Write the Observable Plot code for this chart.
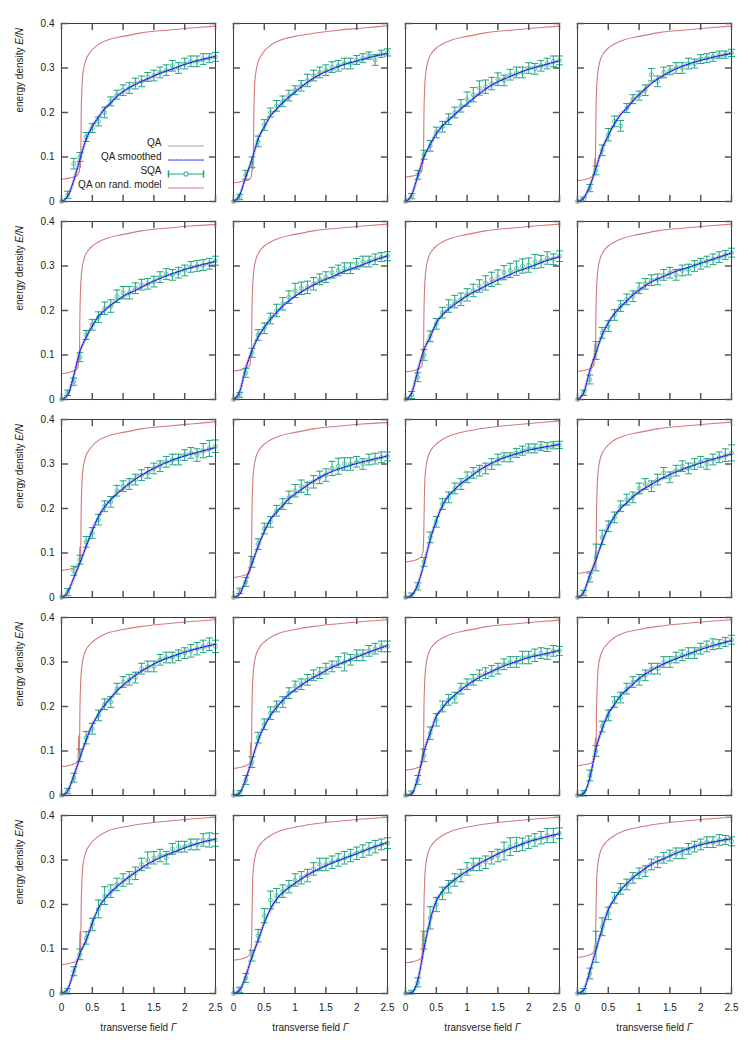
<!DOCTYPE html>
<html><head><meta charset="utf-8">
<script src="https://cdn.jsdelivr.net/npm/d3@7"></script>
<script src="https://cdn.jsdelivr.net/npm/@observablehq/plot@0.6"></script>
<style>
html,body{margin:0;padding:0;background:#fff;}
#chart{width:748px;height:1057px;}
</style></head><body><div id="chart"></div>
<script>
// ---------- data (panels ordered row by row, 4 per row) ----------
const xTicks = [0, 0.5, 1, 1.5, 2, 2.5];
const yTicks = [0, 0.1, 0.2, 0.3, 0.4];
const legendLabels = ["QA", "QA smoothed", "SQA", "QA on rand. model"];
const xTitle = "transverse field Γ";
const yTitle = "energy density E/N";

// x grid of the SQA points
const sqaX = [0,.1,.2,.3,.4,.5,.6,.7,.8,.9,1,1.1,1.2,1.3,1.4,1.5,1.6,1.7,1.8,1.9,2,2.1,2.2,2.3,2.4,2.5];
// x grid of QA and QA smoothed
const qaX = [0,.1,.2,.3,.4,.5,.6,.7,.8,.9,1,1.2,1.4,1.6,1.8,2,2.25,2.5];
// x grid of QA on random model
const randX = [0,.1,.2,.26,.27,.28,.29,.3,.31,.32,.33,.34,.35,.37,.4,.45,.5,.6,.75,1,1.3,1.7,2.1,2.5];

const qaSmoothed = [
[0,.012,.048,.095,.14,.168,.19,.208,.222,.236,.247,.263,.276,.288,.298,.308,.318,.326],
[0,.015,.055,.095,.14,.168,.192,.208,.222,.235,.246,.268,.285,.298,.308,.316,.325,.333],
[0,.015,.058,.1,.128,.152,.17,.183,.196,.208,.22,.242,.262,.275,.287,.297,.307,.316],
[0,.008,.035,.075,.118,.148,.175,.195,.21,.226,.24,.265,.284,.298,.309,.317,.326,.333],
[0,.01,.055,.108,.14,.165,.187,.2,.212,.222,.232,.245,.26,.272,.283,.292,.302,.31],
[0,.018,.07,.11,.14,.162,.18,.196,.21,.222,.232,.25,.264,.276,.288,.298,.311,.323],
[0,.015,.065,.112,.14,.172,.19,.204,.214,.224,.233,.248,.262,.275,.287,.297,.31,.321],
[0,.015,.065,.105,.145,.172,.193,.208,.222,.235,.246,.264,.277,.288,.297,.306,.318,.329],
[0,.012,.045,.078,.115,.15,.182,.203,.22,.233,.245,.266,.283,.297,.309,.318,.328,.337],
[0,.008,.04,.076,.115,.148,.175,.192,.207,.222,.233,.252,.27,.283,.293,.301,.31,.318],
[0,.005,.03,.075,.13,.172,.207,.228,.243,.256,.266,.286,.302,.314,.323,.331,.338,.344],
[0,.012,.05,.085,.125,.158,.182,.2,.213,.226,.237,.254,.27,.282,.293,.302,.313,.322],
[0,.01,.045,.085,.125,.158,.183,.203,.22,.235,.248,.27,.288,.302,.313,.322,.332,.34],
[0,.006,.038,.08,.124,.155,.18,.198,.214,.227,.238,.257,.273,.288,.3,.311,.325,.337],
[0,.004,.04,.098,.14,.177,.197,.213,.226,.237,.248,.265,.279,.291,.301,.31,.318,.326],
[0,.005,.04,.105,.15,.183,.205,.224,.238,.25,.263,.281,.296,.307,.318,.328,.339,.348],
[0,.01,.05,.09,.12,.158,.192,.212,.228,.24,.252,.272,.291,.305,.317,.327,.339,.347],
[0,.008,.04,.082,.12,.158,.19,.212,.227,.238,.248,.266,.281,.293,.304,.314,.328,.339],
[0,.002,.03,.1,.165,.207,.23,.244,.256,.266,.275,.292,.307,.32,.331,.341,.351,.359],
[0,.008,.05,.098,.146,.188,.213,.232,.247,.26,.271,.29,.303,.315,.326,.334,.342,.348]
];

const qaRaw = [
[0,.013,.046,.098,.138,.171,.188,.21,.22,.239,.245,.266,.274,.29,.296,.31,.316,.327],
[0,.014,.058,.093,.143,.166,.195,.206,.225,.233,.249,.266,.288,.296,.31,.314,.327,.332],
[0,.016,.055,.102,.126,.155,.168,.186,.194,.211,.218,.245,.26,.278,.285,.299,.305,.317],
[0,.009,.033,.078,.116,.151,.173,.198,.208,.229,.238,.268,.282,.301,.307,.319,.324,.334],
[0,.011,.052,.11,.138,.168,.185,.203,.21,.225,.23,.248,.258,.275,.281,.294,.3,.311],
[0,.017,.073,.108,.143,.16,.183,.194,.213,.22,.235,.248,.267,.274,.29,.296,.313,.322],
[0,.014,.068,.11,.143,.17,.193,.202,.217,.222,.236,.246,.265,.273,.29,.295,.312,.32],
[0,.016,.062,.108,.143,.175,.191,.211,.22,.238,.244,.267,.275,.291,.295,.309,.316,.33],
[0,.013,.042,.081,.113,.153,.18,.206,.218,.236,.243,.269,.281,.3,.307,.321,.326,.338],
[0,.009,.038,.079,.113,.151,.173,.195,.205,.225,.231,.255,.268,.286,.291,.304,.308,.319],
[0,.006,.028,.078,.128,.175,.205,.231,.241,.259,.264,.289,.3,.317,.321,.334,.336,.345],
[0,.013,.047,.088,.123,.161,.18,.203,.211,.229,.235,.257,.268,.285,.291,.305,.311,.323],
[0,.011,.042,.088,.123,.161,.181,.206,.218,.238,.246,.273,.286,.305,.311,.325,.33,.341],
[0,.007,.036,.083,.122,.158,.178,.201,.212,.23,.236,.26,.271,.291,.298,.314,.323,.338],
[0,.005,.038,.101,.138,.18,.195,.216,.224,.24,.246,.268,.277,.294,.299,.313,.316,.327],
[0,.006,.037,.108,.148,.186,.203,.227,.236,.253,.261,.284,.294,.31,.316,.331,.337,.349],
[0,.011,.047,.093,.118,.161,.19,.215,.226,.243,.25,.275,.289,.308,.315,.33,.337,.348],
[0,.009,.037,.085,.118,.161,.188,.215,.225,.241,.246,.269,.279,.296,.302,.317,.326,.34],
[0,.003,.028,.103,.163,.21,.228,.247,.254,.269,.273,.295,.305,.323,.329,.344,.349,.36],
[0,.009,.047,.101,.144,.191,.211,.235,.245,.263,.269,.293,.301,.318,.324,.337,.34,.349]
];

const sqaMean = [
[0,.015,.085,.1,.145,.165,.18,.2,.225,.24,.25,.255,.265,.27,.28,.283,.29,.295,.305,.3,.31,.315,.315,.32,.322,.325],
[0,.01,.06,.088,.135,.172,.2,.215,.225,.238,.25,.26,.272,.283,.29,.295,.302,.305,.31,.31,.318,.322,.328,.318,.332,.335],
[0,.012,.06,.105,.125,.155,.168,.185,.2,.215,.23,.24,.255,.258,.265,.275,.272,.285,.29,.29,.3,.298,.305,.31,.315,.317],
[0,.005,.03,.07,.115,.15,.18,.17,.21,.23,.238,.25,.285,.27,.29,.295,.3,.3,.31,.31,.32,.322,.325,.33,.33,.334],
[0,.015,.04,.095,.145,.168,.185,.205,.21,.232,.24,.24,.25,.258,.26,.265,.275,.282,.28,.285,.29,.298,.3,.302,.305,.312],
[0,.01,.06,.105,.145,.16,.182,.2,.215,.23,.245,.25,.252,.26,.27,.275,.285,.29,.295,.295,.305,.31,.31,.315,.32,.322],
[0,.01,.05,.1,.142,.17,.195,.21,.22,.225,.235,.245,.255,.262,.27,.275,.285,.29,.295,.3,.302,.31,.31,.318,.315,.322],
[0,.015,.045,.11,.15,.165,.19,.21,.225,.232,.25,.26,.268,.27,.28,.285,.28,.29,.292,.3,.305,.31,.315,.32,.325,.33],
[0,.012,.06,.085,.125,.145,.175,.205,.215,.24,.25,.255,.265,.275,.28,.29,.295,.305,.31,.31,.32,.325,.32,.33,.335,.34],
[0,.015,.035,.08,.12,.155,.17,.195,.21,.225,.24,.25,.245,.26,.27,.275,.29,.295,.3,.3,.305,.3,.31,.312,.315,.317],
[0,.005,.025,.08,.135,.17,.21,.225,.245,.255,.27,.28,.285,.29,.3,.31,.315,.315,.325,.33,.335,.335,.34,.338,.342,.343],
[0,.01,.045,.09,.135,.16,.18,.205,.22,.225,.245,.255,.25,.265,.28,.27,.285,.295,.29,.3,.305,.3,.31,.315,.32,.325],
[0,.01,.04,.09,.13,.15,.18,.205,.21,.24,.255,.26,.265,.285,.29,.29,.305,.31,.31,.315,.32,.325,.33,.335,.34,.335],
[0,.005,.035,.075,.13,.16,.185,.2,.21,.23,.245,.25,.26,.27,.275,.285,.29,.3,.3,.305,.315,.315,.325,.33,.335,.335],
[0,.005,.035,.09,.14,.17,.2,.215,.22,.24,.25,.26,.27,.275,.28,.285,.295,.3,.3,.31,.31,.315,.32,.318,.325,.325],
[0,.005,.045,.1,.155,.18,.21,.22,.24,.255,.26,.27,.285,.285,.3,.3,.31,.315,.32,.32,.33,.335,.34,.34,.345,.35],
[0,.005,.05,.088,.125,.155,.19,.22,.23,.245,.255,.26,.27,.29,.3,.305,.31,.305,.325,.33,.33,.335,.335,.345,.345,.345],
[0,.008,.035,.085,.13,.175,.21,.22,.23,.24,.255,.26,.265,.28,.29,.29,.295,.3,.305,.31,.315,.32,.325,.33,.335,.338],
[0,.003,.025,.12,.17,.2,.225,.24,.255,.265,.28,.29,.29,.295,.305,.31,.32,.33,.335,.335,.34,.345,.35,.355,.355,.36],
[0,.005,.045,.105,.15,.18,.215,.235,.245,.26,.27,.275,.29,.295,.305,.31,.315,.315,.325,.33,.335,.34,.34,.345,.345,.342]
];

const sqaErr = [
[0,.008,.012,.01,.01,.01,.01,.012,.01,.01,.012,.012,.012,.012,.01,.012,.012,.012,.012,.012,.012,.012,.012,.012,.01,.01],
[0,.006,.01,.012,.012,.012,.01,.012,.012,.012,.01,.012,.014,.012,.012,.012,.012,.012,.012,.012,.01,.01,.008,.012,.008,.008],
[0,.006,.01,.01,.012,.012,.012,.012,.012,.014,.016,.016,.016,.015,.014,.014,.012,.012,.012,.012,.012,.012,.012,.012,.012,.01],
[0,.005,.008,.01,.012,.014,.012,.012,.01,.01,.01,.012,.014,.012,.012,.01,.012,.012,.012,.01,.01,.01,.01,.008,.008,.008],
[0,.006,.008,.01,.01,.012,.012,.014,.014,.014,.014,.014,.012,.012,.012,.012,.012,.012,.012,.012,.012,.012,.012,.012,.012,.01],
[0,.006,.01,.01,.012,.012,.012,.014,.014,.014,.016,.014,.014,.014,.012,.012,.012,.012,.012,.012,.012,.012,.012,.012,.01,.01],
[0,.008,.01,.012,.012,.012,.012,.014,.014,.014,.014,.014,.014,.016,.016,.016,.016,.016,.016,.016,.016,.016,.014,.014,.012,.012],
[0,.006,.01,.02,.012,.012,.012,.012,.012,.012,.012,.012,.012,.012,.012,.012,.012,.012,.012,.012,.012,.012,.012,.012,.01,.01],
[0,.008,.01,.01,.012,.012,.012,.012,.012,.012,.012,.012,.012,.012,.012,.012,.012,.012,.012,.012,.012,.012,.014,.016,.018,.014],
[0,.006,.01,.012,.012,.012,.012,.012,.012,.014,.014,.014,.014,.014,.014,.014,.016,.018,.014,.014,.012,.012,.012,.012,.012,.01],
[0,.005,.008,.01,.012,.012,.012,.012,.012,.012,.012,.012,.012,.012,.012,.012,.01,.01,.01,.01,.01,.01,.01,.01,.008,.008],
[0,.006,.01,.03,.016,.012,.012,.012,.012,.012,.012,.012,.012,.012,.012,.012,.012,.012,.012,.012,.012,.012,.012,.012,.014,.018],
[0,.006,.01,.014,.014,.012,.012,.012,.012,.012,.012,.012,.012,.012,.012,.012,.012,.012,.012,.012,.012,.014,.014,.014,.014,.014],
[0,.006,.01,.012,.012,.012,.014,.012,.012,.012,.012,.012,.012,.012,.012,.012,.012,.012,.02,.012,.012,.012,.012,.012,.012,.012],
[0,.005,.01,.014,.014,.014,.012,.012,.012,.012,.012,.012,.012,.012,.012,.012,.012,.012,.012,.014,.014,.014,.012,.012,.012,.01],
[0,.006,.012,.012,.012,.012,.012,.012,.012,.012,.012,.012,.012,.012,.012,.012,.012,.012,.012,.012,.012,.012,.012,.01,.01,.01],
[0,.006,.01,.012,.014,.014,.02,.02,.014,.014,.014,.014,.014,.014,.018,.014,.014,.014,.012,.012,.012,.012,.012,.014,.016,.014],
[0,.006,.01,.012,.014,.016,.02,.016,.014,.014,.014,.014,.014,.014,.014,.014,.014,.014,.014,.014,.014,.014,.014,.014,.012,.012],
[0,.004,.01,.02,.025,.016,.014,.014,.014,.014,.014,.014,.014,.014,.014,.014,.02,.02,.016,.014,.014,.014,.014,.016,.016,.012],
[0,.006,.012,.035,.02,.014,.012,.012,.012,.012,.012,.012,.012,.012,.012,.012,.012,.012,.012,.012,.012,.012,.012,.012,.01,.01]
];

const qaRand = [
[.05,.052,.055,.059,.061,.064,.07,.09,.075,.2,.25,.275,.29,.305,.32,.332,.341,.353,.363,.371,.379,.385,.39,.394],
[.042,.044,.047,.05,.052,.054,.057,.067,.092,.072,.2,.25,.275,.296,.314,.328,.338,.351,.362,.371,.378,.385,.39,.395],
[.055,.057,.061,.067,.071,.105,.085,.2,.25,.275,.29,.3,.307,.318,.328,.338,.345,.354,.363,.371,.379,.385,.39,.394],
[.047,.049,.053,.059,.063,.097,.077,.2,.25,.275,.29,.3,.307,.318,.328,.338,.345,.354,.363,.371,.379,.385,.39,.394],
[.058,.06,.064,.07,.074,.1,.088,.2,.25,.275,.29,.3,.307,.318,.328,.338,.345,.354,.363,.371,.379,.385,.39,.393],
[.064,.066,.07,.076,.08,.11,.094,.2,.25,.275,.29,.3,.307,.318,.328,.338,.345,.354,.363,.371,.379,.385,.39,.394],
[.062,.064,.068,.074,.078,.115,.092,.2,.25,.275,.29,.3,.307,.318,.328,.338,.345,.354,.363,.371,.379,.385,.39,.394],
[.063,.065,.069,.075,.079,.125,.093,.2,.25,.275,.29,.3,.307,.318,.328,.338,.345,.354,.363,.371,.379,.385,.39,.394],
[.061,.063,.066,.07,.072,.075,.081,.115,.09,.2,.25,.275,.29,.305,.32,.332,.341,.353,.363,.371,.379,.385,.39,.395],
[.045,.047,.051,.057,.061,.095,.075,.19,.25,.275,.29,.3,.307,.318,.328,.338,.345,.354,.363,.371,.379,.385,.39,.393],
[.08,.082,.086,.092,.096,.1,.11,.17,.25,.275,.29,.3,.307,.318,.328,.338,.345,.355,.365,.374,.381,.387,.392,.397],
[.054,.056,.059,.064,.067,.071,.104,.084,.2,.25,.275,.29,.3,.312,.324,.335,.343,.354,.363,.371,.379,.385,.39,.394],
[.065,.067,.071,.077,.081,.135,.095,.2,.25,.275,.29,.3,.307,.318,.328,.338,.345,.355,.365,.373,.38,.386,.391,.395],
[.061,.063,.067,.073,.077,.12,.091,.2,.25,.275,.29,.3,.307,.318,.328,.338,.345,.355,.365,.373,.38,.386,.391,.395],
[.057,.059,.063,.069,.073,.107,.087,.2,.25,.275,.29,.3,.307,.318,.328,.338,.345,.354,.363,.371,.379,.385,.39,.394],
[.067,.069,.072,.077,.08,.084,.13,.097,.2,.25,.275,.29,.3,.312,.324,.335,.343,.355,.365,.373,.38,.386,.391,.395],
[.065,.067,.07,.074,.076,.079,.085,.14,.095,.2,.25,.275,.29,.305,.32,.332,.341,.353,.365,.374,.381,.387,.392,.396],
[.075,.077,.081,.087,.091,.1,.105,.165,.25,.275,.29,.3,.307,.318,.328,.338,.345,.355,.365,.374,.381,.387,.392,.396],
[.069,.071,.075,.081,.085,.14,.099,.2,.25,.275,.29,.3,.307,.318,.328,.338,.345,.355,.365,.374,.381,.387,.392,.396],
[.081,.083,.087,.093,.097,.1,.111,.18,.25,.275,.29,.3,.307,.318,.328,.338,.345,.355,.365,.374,.381,.387,.392,.396]
];

// ---------- checks ----------
const problems = [];
const check = (name, arr, xs) => arr.forEach((r, i) => { if (r.length !== xs.length) problems.push(`${name}[${i}] has ${r.length}, expected ${xs.length}`); });
check("qaSmoothed", qaSmoothed, qaX); check("qaRaw", qaRaw, qaX);
check("sqaMean", sqaMean, sqaX); check("sqaErr", sqaErr, sqaX); check("qaRand", qaRand, randX);
if (problems.length) throw new Error(problems.join("; "));

// ---------- tables ----------
const nCols = 4;
const where = p => ({panel: p, col: p % nCols, row: Math.floor(p / nCols)});
const toTable = (series, xs) => series.flatMap((ys, p) => ys.map((y, k) => ({...where(p), x: xs[k], y})));
const smoothTable = toTable(qaSmoothed, qaX);
const rawTable = toTable(qaRaw, qaX);
const randTable = toTable(qaRand, randX);
const sqaTable = sqaMean.flatMap((ys, p) => ys.map((y, k) => ({...where(p), x: sqaX[k], y, e: sqaErr[p][k]})));
const barTable = sqaTable.filter(d => d.e > 0);

// ---------- styling ----------
const cGray = "#a5a5a5", cBlue = "#1414ff", cGreen = "#1ea582", cGreenLight = "#5cc9a6", cRed = "#d57a7a";
const blueDash = "1.3 1.3";
const hline = {draw(ctx, size) { const r = Math.sqrt(size / Math.PI); ctx.moveTo(-r, 0); ctx.lineTo(r, 0); }};
const stick = {draw(ctx, l) { ctx.moveTo(0, 0); ctx.lineTo(0, -l); }};
const F = {fx: "col", fy: "row"};
const tickLen = 6, tickColor = "#555";

const marks = [
  Plot.line(rawTable, {...F, x: "x", y: "y", z: "panel", stroke: cGray, strokeWidth: 3, strokeOpacity: 0.55, curve: "monotone-x"}),
  Plot.line(randTable, {...F, x: "x", y: "y", z: "panel", stroke: cRed, strokeWidth: 1.1, curve: "monotone-x"}),
  Plot.ruleX(barTable, {...F, x: "x", y1: d => d.y - d.e, y2: d => d.y + d.e, stroke: cGreen, strokeWidth: 1}),
  Plot.dot(barTable, {...F, x: "x", y: d => d.y + d.e, symbol: hline, r: 3.5, stroke: cGreen, strokeWidth: 1}),
  Plot.dot(barTable, {...F, x: "x", y: d => d.y - d.e, symbol: hline, r: 3.5, stroke: cGreen, strokeWidth: 1}),
  Plot.dot(sqaTable, {...F, x: "x", y: "y", r: 2, stroke: cGreenLight, strokeWidth: 1, fill: "none"}),
  Plot.line(smoothTable, {...F, x: "x", y: "y", z: "panel", stroke: cBlue, strokeWidth: 1.2, strokeDasharray: blueDash, curve: "monotone-x"}),
  Plot.frame({stroke: "#3a3a3a", strokeWidth: 1}),
  // inward ticks on all four sides of every panel
  Plot.vector(xTicks, {x: d => d, frameAnchor: "bottom", rotate: 0, length: tickLen, anchor: "start", shape: stick, stroke: tickColor}),
  Plot.vector(xTicks, {x: d => d, frameAnchor: "top", rotate: 180, length: tickLen, anchor: "start", shape: stick, stroke: tickColor}),
  Plot.vector(yTicks, {y: d => d, frameAnchor: "left", rotate: 90, length: tickLen, anchor: "start", shape: stick, stroke: tickColor}),
  Plot.vector(yTicks, {y: d => d, frameAnchor: "right", rotate: -90, length: tickLen, anchor: "start", shape: stick, stroke: tickColor}),
  Plot.axisX({ticks: xTicks, tickSize: 0, tickPadding: 10, tickFormat: d => String(d), label: null, fill: "#222"}),
  Plot.axisY({ticks: yTicks, tickSize: 0, tickPadding: 7, tickFormat: d => String(d), label: null, fill: "#222"}),
  Plot.text([yTitle], {text: d => d, frameAnchor: "left", dx: -42, rotate: -90, facetAnchor: "left", fill: "#222"}),
  Plot.text([xTitle], {text: d => d, frameAnchor: "bottom", dy: 37, facetAnchor: "bottom", fill: "#222"})
];

// legend inside the first panel
const L = {fx: () => 0, fy: () => 0, frameAnchor: "bottom-right"};
const legendDy = [-55.5, -41.5, -27.5, -13.5];
const sampleStyle = [
  {stroke: cGray, strokeWidth: 1},
  {stroke: cBlue, strokeWidth: 1.2, strokeDasharray: blueDash},
  {stroke: cGreen, strokeWidth: 1},
  {stroke: cRed, strokeWidth: 1.1}
];
legendLabels.forEach((label, i) => {
  marks.push(Plot.text([label], {...L, text: d => d, dx: -54, dy: legendDy[i], textAnchor: "end", fill: "#222"}));
  marks.push(Plot.vector([label], {...L, dx: -47, dy: legendDy[i], rotate: 90, length: 35, anchor: "start", shape: stick, ...sampleStyle[i]}));
});
marks.push(Plot.vector([0], {...L, dx: -47, dy: legendDy[2], rotate: 0, length: 6, anchor: "middle", shape: stick, stroke: cGreen}));
marks.push(Plot.vector([0], {...L, dx: -12, dy: legendDy[2], rotate: 0, length: 6, anchor: "middle", shape: stick, stroke: cGreen}));
marks.push(Plot.dot([0], {...L, dx: -29.5, dy: legendDy[2], r: 2, stroke: cGreenLight, fill: "white"}));

const chart = Plot.plot({
  width: 748, height: 1057,
  marginTop: 22, marginRight: 15, marginBottom: 64, marginLeft: 60,
  style: {fontFamily: '"Liberation Sans", Arial, sans-serif', fontSize: "10px", color: "#222", background: "#fff", overflow: "visible"},
  fx: {domain: [0, 1, 2, 3], paddingInner: 0.104, paddingOuter: 0, axis: null},
  fy: {domain: [0, 1, 2, 3, 4], paddingInner: 0.102, paddingOuter: 0, axis: null},
  x: {domain: [0, 2.5]},
  y: {domain: [0, 0.4]},
  marks
});

// italic symbols inside the axis titles
d3.select(chart).selectAll("text").each(function () {
  const t = this.textContent;
  if (t === yTitle) { this.textContent = "energy density "; d3.select(this).append("tspan").attr("font-style", "italic").text("E/N"); }
  else if (t === xTitle) { this.textContent = "transverse field "; d3.select(this).append("tspan").attr("font-style", "italic").text("Γ"); }
});

document.getElementById("chart").appendChild(chart);
</script>
</body></html>
